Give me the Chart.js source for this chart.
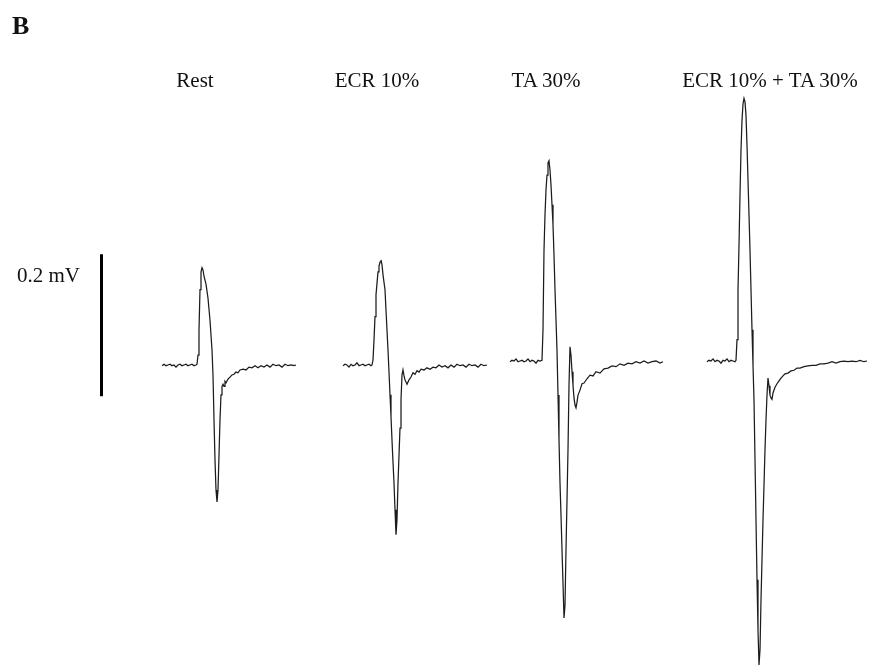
<!DOCTYPE html>
<html>
<head>
<meta charset="utf-8">
<script src="https://cdn.jsdelivr.net/npm/chart.js@4.4.1/dist/chart.umd.min.js"></script>
<style>
  html, body { margin: 0; padding: 0; background: #fff; }
  #wrap { position: relative; width: 887px; height: 667px; overflow: hidden; }
  #mep { position: absolute; left: 0; top: 0; }
  .lbl { position: absolute; font-family: "Liberation Serif", serif; font-size: 21px; line-height: 21px; color: #111; white-space: nowrap; }
  .cond { transform: translateX(-50%); }
  #panel { font-weight: bold; font-size: 26px; line-height: 26px; }
</style>
</head>
<body>
<div id="wrap">
  <canvas id="mep" width="887" height="667"></canvas>
  <div class="lbl" id="panel" style="left:12px;top:13px">B</div>
  <div class="lbl cond" style="left:195px;top:70px">Rest</div>
  <div class="lbl cond" style="left:377px;top:70px">ECR 10%</div>
  <div class="lbl cond" style="left:546px;top:70px">TA 30%</div>
  <div class="lbl cond" style="left:770px;top:70px">ECR 10% + TA 30%</div>
  <div class="lbl" style="left:17px;top:265px">0.2 mV</div>
</div>
<script>
// MEP traces: [time ms from sweep start, amplitude mV from baseline]
const conditions = ["Rest", "ECR 10%", "TA 30%", "ECR 10% + TA 30%"];

const restTrace = [
  [0,-0.001],[0.8,0.001],[1.6,-0.001],[2.4,0],[3.2,0.001],[4.0,-0.001],[4.8,0],[5.6,-0.003],[6.4,0],[7.2,0.001],
  [8.0,-0.001],[8.8,0],[9.6,0.001],[10.4,-0.001],[11.2,0],[12.0,0.001],[12.8,-0.001],[13.6,0],[14.0,0.001],
  [14.4,0.014],[14.8,0.049],[15.2,0.106],[15.6,0.131],[16.0,0.137],[16.4,0.134],[16.8,0.125],[17.6,0.114],
  [18.4,0.094],[19.2,0.063],[20.0,0.021],[20.4,-0.014],[20.8,-0.077],[21.2,-0.134],[21.6,-0.176],[22.0,-0.193],
  [22.4,-0.176],[22.8,-0.127],[23.2,-0.077],[23.6,-0.042],[24.0,-0.030],[24.4,-0.027],[24.8,-0.030],[25.2,-0.023],
  [25.6,-0.025],[26.4,-0.020],[27.2,-0.017],[28.0,-0.014],[28.8,-0.013],[29.6,-0.010],[30.4,-0.011],[31.2,-0.007],
  [32.4,-0.006],[33.6,-0.007],[34.8,-0.003],[36.0,-0.004],[37.2,-0.001],[38.4,-0.004],[39.6,-0.001],[40.8,-0.003],
  [42.0,0],[43.2,-0.003],[44.4,0.001],[45.6,-0.001],[46.8,0],[48.0,-0.003],[49.2,0.001],[50.4,-0.001],[51.6,0],
  [52.8,-0.001],[53.6,0]
];

const ecrTrace = [
  [0,-0.001],[0.8,0.001],[1.6,0],[2.4,-0.003],[3.2,0.001],[4.0,-0.001],[4.8,0],[5.6,0.003],[6.4,-0.001],[7.2,0],
  [8.0,0.001],[8.8,-0.001],[9.6,0],[10.4,0.001],[11.2,-0.001],[11.6,0],
  [12.0,0.007],[12.4,0.035],[12.8,0.068],[13.2,0.099],[13.6,0.115],[14.0,0.131],[14.4,0.139],[14.8,0.145],
  [15.2,0.148],[15.6,0.141],[16.0,0.127],[16.8,0.106],[17.2,0.077],[17.6,0.049],[18.0,0.021],[18.4,-0.010],
  [18.8,-0.042],[19.2,-0.073],[19.6,-0.106],[20.0,-0.137],[20.4,-0.166],[20.8,-0.204],[21.2,-0.239],[21.6,-0.218],
  [22.0,-0.166],[22.4,-0.127],[22.8,-0.089],[23.2,-0.049],[23.6,-0.014],[24.0,-0.007],[24.4,-0.015],[24.8,-0.021],
  [25.6,-0.027],[26.4,-0.021],[27.2,-0.017],[28.0,-0.011],[28.8,-0.013],[29.6,-0.008],[30.4,-0.010],[31.2,-0.006],
  [32.4,-0.007],[33.6,-0.004],[34.8,-0.006],[36.0,-0.003],[37.2,-0.004],[38.4,0],[39.6,-0.003],[40.8,-0.001],
  [42.0,-0.004],[43.2,0],[44.4,-0.003],[45.6,0.001],[46.8,-0.001],[48.0,0],[49.2,-0.003],[50.4,0.001],
  [51.6,-0.001],[52.8,0],[54.0,-0.003],[55.2,0.001],[56.4,-0.001],[57.6,0]
];

const taTrace = [
  [0,-0.001],[0.8,0.001],[1.6,0],[2.4,0.003],[3.2,-0.001],[4.0,0],[4.8,0.001],[5.6,-0.001],[6.4,0],[7.2,0.003],
  [8.0,-0.001],[8.8,0.001],[9.6,0],[10.4,-0.003],[11.2,0.001],[12.0,0],[12.8,0.001],
  [13.2,0.044],[13.6,0.156],[14.0,0.206],[14.4,0.241],[14.8,0.262],[15.2,0.279],[15.6,0.282],[16.0,0.269],
  [16.4,0.248],[16.8,0.220],[17.2,0.192],[17.6,0.149],[18.0,0.100],[18.4,0.058],[18.8,0.015],[19.2,-0.048],
  [19.6,-0.111],[20.0,-0.172],[20.4,-0.217],[20.8,-0.266],[21.2,-0.313],[21.6,-0.362],[22.0,-0.344],[22.4,-0.266],
  [22.8,-0.196],[23.2,-0.125],[23.6,-0.034],[24.0,0.020],[24.4,0.008],[24.8,-0.015],[25.2,-0.034],[25.6,-0.052],
  [26.0,-0.062],[26.4,-0.066],[26.8,-0.058],[27.2,-0.048],[28.0,-0.041],[28.8,-0.032],[29.6,-0.031],[30.8,-0.025],
  [32.0,-0.020],[33.2,-0.021],[34.4,-0.015],[36.0,-0.017],[37.6,-0.011],[39.2,-0.010],[40.8,-0.007],[42.4,-0.008],
  [44.0,-0.004],[45.6,-0.006],[47.2,-0.003],[48.8,-0.004],[50.4,-0.001],[52.0,-0.003],[53.6,0],[55.2,-0.003],
  [56.8,-0.001],[58.4,0],[60.0,-0.003],[61.2,-0.001]
];

const ecrTaTrace = [
  [0,-0.001],[0.8,0.001],[1.6,0],[2.4,0.003],[3.2,-0.001],[4.0,0.001],[4.8,0],[5.6,-0.003],[6.4,0.001],[7.2,0],
  [8.0,0.003],[8.8,-0.001],[9.6,0.001],[10.4,0],[11.2,-0.001],[11.6,0.001],
  [12.0,0.030],[12.4,0.100],[12.8,0.163],[13.2,0.234],[13.6,0.297],[14.0,0.339],[14.4,0.362],[14.8,0.370],
  [15.2,0.365],[15.6,0.346],[16.0,0.304],[16.4,0.255],[16.8,0.206],[17.2,0.156],[17.6,0.100],[18.0,0.044],
  [18.4,-0.006],[18.8,-0.055],[19.2,-0.139],[19.6,-0.224],[20.0,-0.308],[20.4,-0.379],[20.8,-0.428],[21.2,-0.407],
  [21.6,-0.337],[22.0,-0.280],[22.4,-0.224],[22.8,-0.175],[23.2,-0.125],[23.6,-0.083],[24.0,-0.048],[24.4,-0.024],
  [24.8,-0.035],[25.2,-0.048],[25.6,-0.052],[26.0,-0.054],[26.4,-0.045],[27.2,-0.037],[28.0,-0.032],[28.8,-0.028],
  [29.6,-0.024],[30.4,-0.021],[31.2,-0.018],[32.4,-0.017],[33.6,-0.014],[34.8,-0.013],[36.0,-0.010],[37.2,-0.010],
  [38.8,-0.008],[40.4,-0.007],[42.0,-0.006],[43.6,-0.006],[45.2,-0.004],[46.8,-0.004],[48.4,-0.003],[50.0,-0.001],
  [51.6,-0.003],[53.2,-0.001],[54.8,0],[56.4,-0.001],[58.0,0],[59.6,-0.001],[61.2,0.001],[62.8,-0.001],[64.0,0]
];

const scaleBarMv = 0.2;

// layout: where each sweep sits on the shared axes (ms, mV)
const traces = [restTrace, ecrTrace, taTrace, ecrTaTrace];
const sweepStartMs = [64.8, 137.2, 204, 282.8];
const sweepBaseMv = [0, 0, 0.0056, 0.0056];
const barX = 40.6, barBottom = -0.044;

const datasets = traces.map((tr, i) => ({
  label: conditions[i],
  data: tr.map(([t, v]) => ({ x: t + sweepStartMs[i], y: v + sweepBaseMv[i] })),
  borderColor: "#1c1c1c",
  borderWidth: 1.25,
  pointRadius: 0,
  tension: 0,
}));

datasets.push({
  label: "0.2 mV",
  data: [{ x: barX, y: barBottom }, { x: barX, y: barBottom + scaleBarMv }],
  borderColor: "#000",
  borderWidth: 3,
  pointRadius: 0,
  borderCapStyle: "butt",
});

new Chart(document.getElementById("mep"), {
  type: "line",
  data: { datasets },
  options: {
    responsive: false,
    animation: false,
    layout: { padding: 0 },
    plugins: { legend: { display: false }, tooltip: { enabled: false } },
    scales: {
      x: { type: "linear", display: false, min: 0, max: 354.8 },
      y: { display: false, min: -0.4254, max: 0.5141 },
    },
  },
});
</script>
</body>
</html>
